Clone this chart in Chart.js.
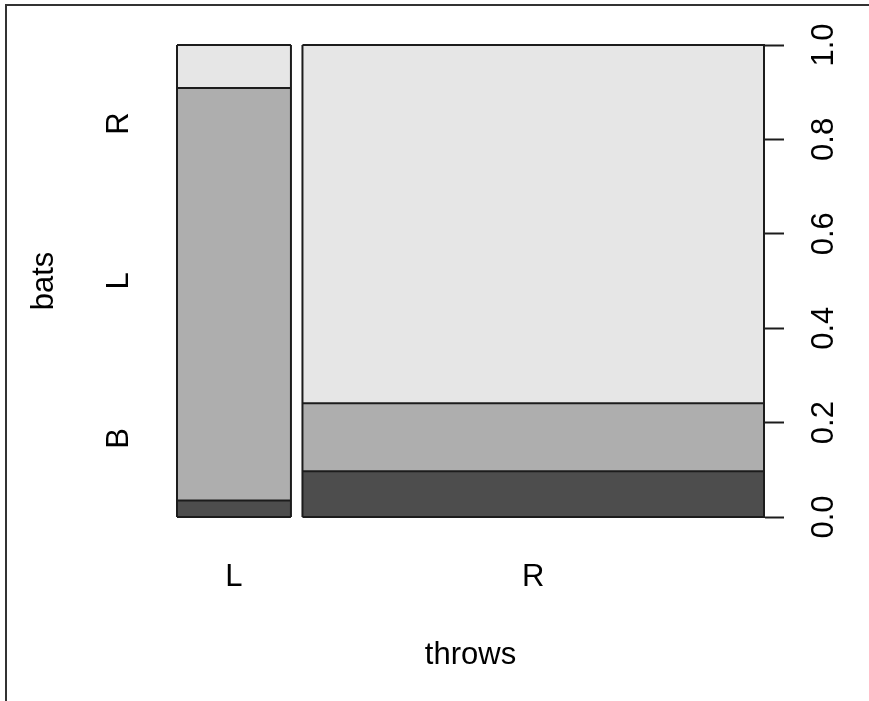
<!DOCTYPE html>
<html>
<head>
<meta charset="utf-8">
<script src="https://cdn.jsdelivr.net/npm/chart.js@4/dist/chart.umd.min.js"></script>
<style>
  html, body { margin: 0; padding: 0; background: #ffffff; }
  #frame { position: absolute; left: 5px; top: 4px; width: 880px; height: 720px;
           border-left: 2px solid #333; border-top: 2px solid #333; }
  #c { position: absolute; left: 0; top: 0; }
</style>
</head>
<body>
<div id="frame"></div>
<canvas id="c" width="869" height="701"></canvas>
<script>
// ---- data read from the spineplot ----
const throwsLevels = ['L', 'R'];            // x categories
const throwsShare  = [0.198, 0.802];        // column widths (share of all players)
const batsLevels   = ['B', 'L', 'R'];       // y categories (stacked bottom → top)
const batsInL      = [0.035, 0.874, 0.091]; // conditional shares, throws = L
const batsInR      = [0.097, 0.144, 0.759]; // conditional shares, throws = R
const yTicks       = [0, 0.2, 0.4, 0.6, 0.8, 1.0];
const xLabel = 'throws';
const yLabel = 'bats';

// ---- derived ----
const OFF = 0.02;
const shares = [batsInL, batsInR];
const fills = ['#4D4D4D', '#AEAEAE', '#E6E6E6'];
const edge = '#1c1c1c';
const FONT = { family: "'Liberation Sans', Arial, Helvetica, sans-serif", size: 31 };

const colX0 = [], colX1 = [];
let acc = 0;
throwsShare.forEach((s, i) => { colX0.push(acc); colX1.push(acc + s); acc += s + OFF; });
const xMax = colX1[colX1.length - 1];

const datasets = [];
const lineBase = { type: 'line', pointRadius: 0, pointHoverRadius: 0, borderColor: edge,
                   borderWidth: 2, tension: 0, clip: false, xAxisID: 'x', yAxisID: 'y' };

throwsLevels.forEach((lvl, c) => {
  const cum = [0];
  shares[c].forEach(v => cum.push(cum[cum.length - 1] + v));
  const baseIdx = datasets.length;
  cum.forEach((yv, k) => {
    datasets.push(Object.assign({}, lineBase, {
      label: lvl + '-' + k,
      data: [{ x: colX0[c], y: yv }, { x: colX1[c], y: yv }],
      fill: k === 0 ? false : baseIdx + k - 1,
      backgroundColor: k === 0 ? 'rgba(0,0,0,0)' : fills[k - 1]
    }));
  });
  [colX0[c], colX1[c]].forEach(xv => {
    datasets.push(Object.assign({}, lineBase, {
      label: lvl + '-edge', order: -1, fill: false,
      data: [{ x: xv, y: 0 }, { x: xv, y: 1 }]
    }));
  });
});

const noPad = (s) => { s.paddingTop = 0; s.paddingBottom = 0; };

new Chart(document.getElementById('c'), {
  type: 'line',
  data: { datasets },
  options: {
    responsive: false,
    animation: false,
    devicePixelRatio: 1,
    events: [],
    layout: { padding: { left: 25.7, right: 0, top: 45, bottom: 27.4 } },
    plugins: { legend: { display: false }, tooltip: { enabled: false } },
    scales: {
      x: {
        type: 'linear', position: 'bottom', min: 0, max: xMax,
        grid: { display: false, drawTicks: false }, border: { display: false },
        afterBuildTicks: (s) => { s.ticks = throwsLevels.map((_, i) => ({ value: (colX0[i] + colX1[i]) / 2 })); },
        ticks: { color: '#000', font: FONT, padding: 41.4, maxRotation: 0, minRotation: 0,
                 autoSkip: false, callback: (v, i) => throwsLevels[i] },
        title: { display: true, text: xLabel, color: '#000', font: FONT, padding: 0 },
        afterFit: (s) => { s.height = 701 - 27.4 - 517; s.paddingLeft = 0; s.paddingRight = 0; }
      },
      yl: {
        type: 'linear', position: 'left', min: 0, max: 1,
        grid: { display: false, drawTicks: false }, border: { display: false },
        afterBuildTicks: (s) => { s.ticks = batsLevels.map((_, i) => ({ value: (i + 0.5) / batsLevels.length })); },
        ticks: { color: '#000', font: FONT, padding: 46, minRotation: 90, maxRotation: 90,
                 crossAlign: 'center', autoSkip: false, callback: (v, i) => batsLevels[i] },
        title: { display: true, text: yLabel, color: '#000', font: FONT, padding: 0 },
        afterFit: (s) => { s.width = 177 - 25.7; noPad(s); }
      },
      y: {
        type: 'linear', position: 'right', min: 0, max: 1,
        grid: { display: true, drawOnChartArea: false, drawTicks: true, tickLength: 20,
                tickColor: edge, tickWidth: 2 },
        border: { display: true, color: edge, width: 2 },
        afterBuildTicks: (s) => { s.ticks = yTicks.map(v => ({ value: v })); },
        ticks: { color: '#000', font: FONT, padding: 18.5, minRotation: 90, maxRotation: 90,
                 crossAlign: 'center', autoSkip: false, callback: (v) => Number(v).toFixed(1) },
        afterFit: (s) => { s.width = 869 - 764; noPad(s); }
      }
    }
  }
});
</script>
</body>
</html>
